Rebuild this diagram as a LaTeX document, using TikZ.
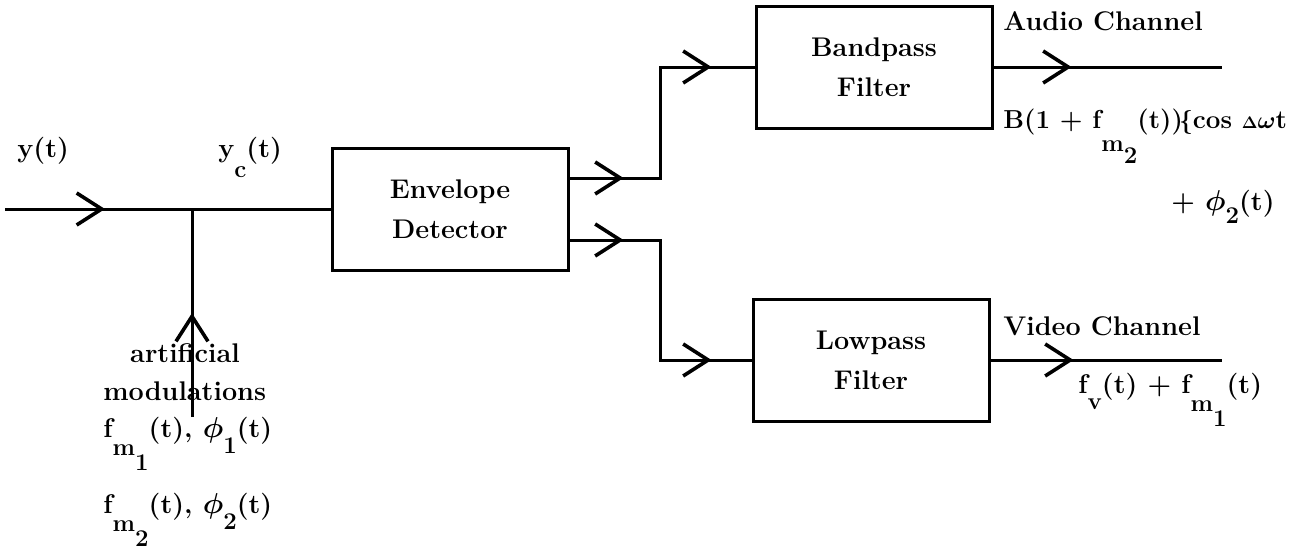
\documentclass[tikz,border=0pt]{standalone}
\usetikzlibrary{arrows.meta,decorations.markings}
\newcommand{\blkfont}{\fontsize{13.5}{20}\selectfont\bfseries\boldmath}
% lowered subscript, set nearly at full size
\newcommand{\dn}[2][0.7em]{\raisebox{-#1}{\fontsize{12}{12}\selectfont #2}}
\tikzset{
  block/.style={draw, line width=1.5pt, minimum width=118pt, minimum height=61pt, align=center, font=\blkfont},
  lbl/.style={font=\blkfont, inner sep=0pt},
  wire/.style={line width=1.5pt},
  barb at/.style={postaction={decorate, decoration={markings, mark=at position #1 with {\arrow{Straight Barb[length=12.5pt,width=16pt,line width=1.8pt]}}}}}
}
\begin{document}
\begin{tikzpicture}[x=0.5pt,y=-0.5pt]
  \useasboundingbox (0,0) rectangle (1300,557);
  % blocks
  \node[block] (env) at (450,209) {Envelope\\Detector};
  \node[block] (bpf) at (874,67) {Bandpass\\Filter};
  \node[block] (lpf) at (871,360) {Lowpass\\Filter};
  % wire ends
  \coordinate (in) at (5,209);
  \coordinate (jn) at (192,209);
  \coordinate (mod) at (192,417);
  \coordinate (upr) at (660,178);
  \coordinate (lwr) at (660,240);
  \coordinate (aout) at (1222,67);
  \coordinate (vout) at (1222,360);

  % input and the artificial modulations
  \draw[wire, barb at=50pt] (in) -- (env.west);
  \draw[wire, barb at=52pt] (mod) -- (jn);
  % detector to both filters
  \draw[wire, barb at=27pt, barb at=126.5pt] (env.east |- upr) -- (upr) |- (bpf.west);
  \draw[wire, barb at=27pt, barb at=131pt] (env.east |- lwr) -- (lwr) |- (lpf.west);
  % channel outputs
  \draw[wire, barb at=39pt] (bpf.east) -- (aout);
  \draw[wire, barb at=41.5pt] (lpf.east) -- (vout);

  % signal labels
  \node[lbl, anchor=base west] (ylbl) at (17,157) {y(t)};
  \node[lbl, anchor=base west] (yclbl) at (218,157) {y\dn[0.75em]{c}(t)};
  \node[lbl, anchor=base west] (alab) at (1003,30) {Audio Channel};
  \node[lbl, anchor=base west, font=\fontsize{13}{20}\selectfont\bfseries\boldmath] (aeq) at (1003,128)
    {B(1 + f\dn[0.9em]{m\dn[0.5em]{2}}(t))\kern-0.15em$\{$cos \scalebox{0.7}{$\Delta$}$\omega$t};
  \node[lbl, anchor=base east] (aeq2) at (1275,210) {+ $\phi$\dn[0.5em]{2}(t)};
  \node[lbl, anchor=base west] (vlab) at (1003,335) {Video Channel};
  \node[lbl, anchor=base west] (veq) at (1078,393) {f\dn[0.6em]{v}(t) + f\dn[0.7em]{m\dn[0.6em]{1}}(t)};
  \node[lbl, anchor=base] (art) at (185,362) {artificial};
  \node[lbl, anchor=base west] (modl) at (103,400) {modulations};
  \node[lbl, anchor=base west] (fm1) at (103,437) {f\dn{m\dn[0.6em]{1}}(t), $\phi$\dn[0.6em]{1}(t)};
  \node[lbl, anchor=base west] (fm2) at (103,513) {f\dn{m\dn[0.6em]{2}}(t), $\phi$\dn[0.6em]{2}(t)};
\end{tikzpicture}
\end{document}
